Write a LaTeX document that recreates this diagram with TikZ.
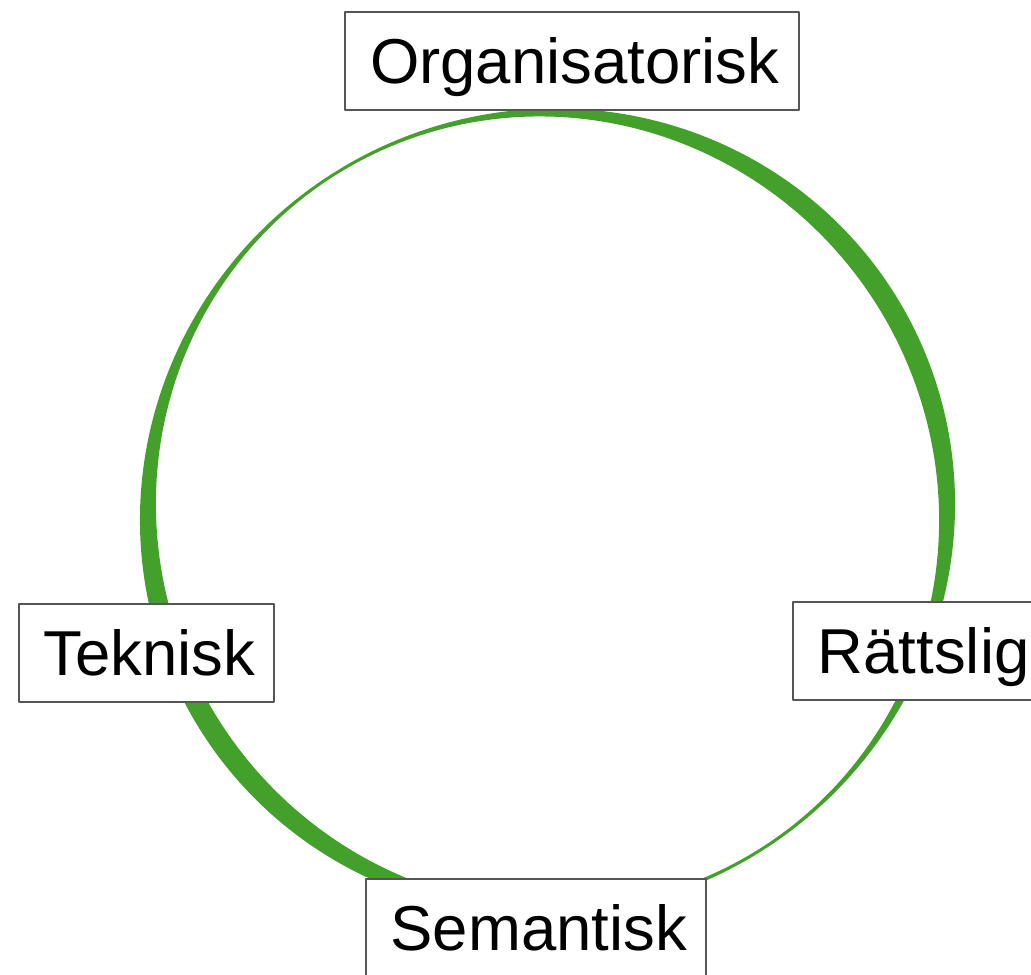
\documentclass[tikz,border=0pt]{standalone}
\usepackage{fontspec}
\setmainfont{Liberation Sans}
\definecolor{ringgreen}{RGB}{67,160,42}
\definecolor{boxgray}{RGB}{85,85,85}
\begin{document}
\begin{tikzpicture}[x=0.75pt, y=-0.75pt, line join=round, samples=361,
 declare function={tw(\t)=12+9*cos(2*(\t-32));},
 lbl/.style={draw=boxgray, line width=1.1pt, fill=white, minimum height=73.5pt, inner sep=0pt, text height=34.3pt, text depth=0pt, font=\fontsize{47.6}{57}\selectfont}]
% khung hình
\useasboundingbox (0,0) rectangle (1031,974);
\clip (0,0) rectangle (1031,974);
% vòng tròn xanh, dày mỏng khác nhau
\fill[ringgreen, even odd rule, domain=0:360]
 plot ({547.5+(399.5+tw(\x)/2)*cos(\x)}, {512-(399.5+tw(\x)/2)*sin(\x)}) -- cycle
 plot ({547.5+(399.5-tw(\x)/2)*cos(\x)}, {512-(399.5-tw(\x)/2)*sin(\x)}) -- cycle;
% các ô chữ
\foreach \name/\pos/\w/\txt in {org/{(572,61)}/454/Organisatorisk, tek/{(146.5,653)}/255/Teknisk, rat/{(921,651)}/256/Rättslig, sem/{(536,928)}/340/Semantisk}
 \node[lbl, minimum width=\w*0.75pt] (\name) at \pos {\hspace{4pt}\txt};
\end{tikzpicture}
\end{document}
